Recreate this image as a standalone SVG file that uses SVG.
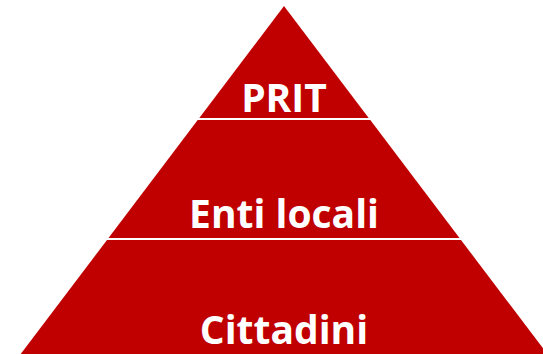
<svg xmlns="http://www.w3.org/2000/svg" width="543" height="354" viewBox="0 0 543 354">
<style>
.lvl{fill:#C00000}
.lbl{fill:#FFFFFF;font-family:"Open Sans","Liberation Sans",sans-serif;font-weight:bold;font-size:39px;text-anchor:middle}
</style>
<rect width="543" height="354" fill="#FFFFFF"/>
<g id="connectors"></g>
<g id="node-prit">
<polygon class="lvl" points="284,6 368.7,118 199.3,118"/>
<text class="lbl" x="284" y="111.5">PRIT</text>
</g>
<g id="node-enti">
<polygon class="lvl" points="197.7,120 370.3,120 459.5,238 108.5,238"/>
<text class="lbl" x="284" y="228">Enti locali</text>
</g>
<g id="node-cittadini">
<polygon class="lvl" points="107,240 461,240 547.3,354 20.7,354"/>
<text class="lbl" x="284" y="344">Cittadini</text>
</g>
</svg>
